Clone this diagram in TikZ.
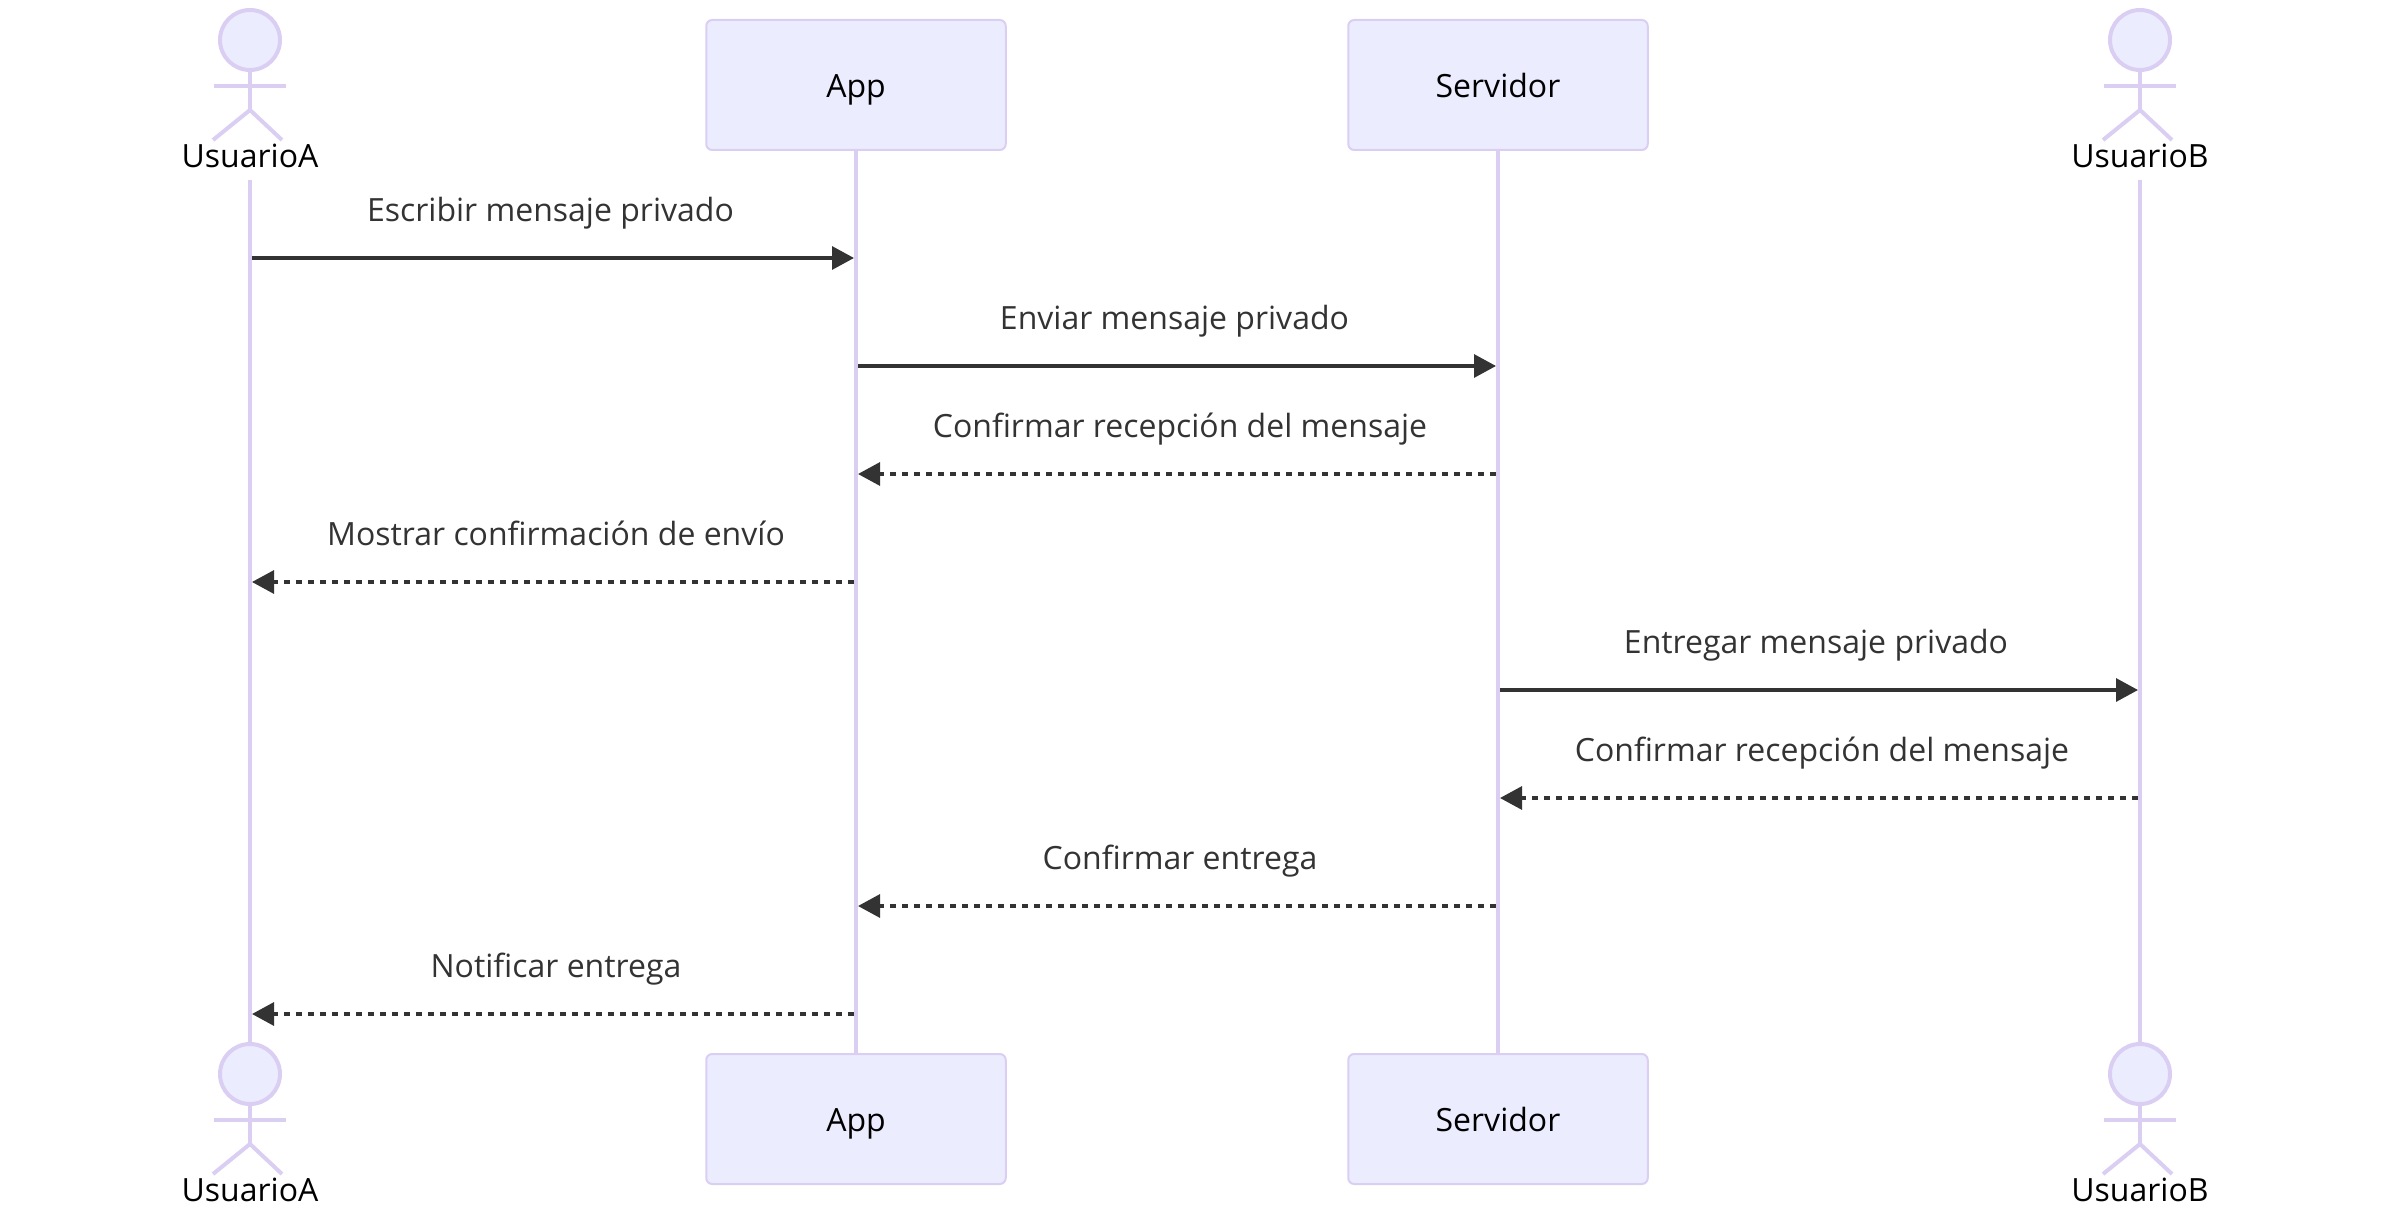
\documentclass[tikz,border=0pt]{standalone}
\usepackage{fontspec}
\setmainfont{Open Sans}
\usetikzlibrary{arrows.meta,backgrounds}
\definecolor{actorfill}{HTML}{ECECFF}
\definecolor{actorline}{HTML}{DACEF3}
\definecolor{msgcolor}{HTML}{333333}
\tikzset{
  x=1pt,y=-1pt,
  boxnode/.style={draw=actorline,fill=actorfill,line width=2pt,rounded corners=6pt,minimum width=299.5pt,minimum height=130pt,inner sep=0pt,outer sep=0pt,text=black,font=\fontsize{32}{38}\selectfont,text height=25pt,text depth=0pt,align=center},
  headnode/.style={circle,draw=actorline,fill=actorfill,line width=4pt,minimum size=60pt,inner sep=0pt,outer sep=0pt},
  stick/.style={draw=actorline,line width=4pt},
  lifeline/.style={draw=actorline,line width=4.5pt},
  actorlabel/.style={anchor=base,text=black,font=\fontsize{32}{38}\selectfont,inner sep=0pt},
  msglabel/.style={anchor=base,text=msgcolor,font=\fontsize{32}{38}\selectfont,inner sep=0pt},
  msg/.style={draw=msgcolor,line width=3.2pt,-{Triangle[length=22pt,width=23pt]}},
  dmsg/.style={msg,dash pattern=on 6pt off 6pt},
}
\newcommand{\stickman}[3]{% x, y offset, name
  \node[headnode] (#3head) at (#1,40+#2) {};
  \coordinate (#3hip) at (#1,110+#2);
  \coordinate (#3la) at (#1-36,86+#2);
  \coordinate (#3ra) at (#1+36,86+#2);
  \coordinate (#3lf) at (#1-37,140+#2);
  \coordinate (#3rf) at (#1+32,140+#2);
  \begin{scope}[on background layer]
    \draw[stick] (#3head) -- (#3hip);
    \draw[stick] (#3la) -- (#3ra);
    \draw[stick] (#3lf) -- (#3hip) -- (#3rf);
  \end{scope}
}
\begin{document}
\begin{tikzpicture}
\useasboundingbox (0,0) rectangle (2390,1206);
\node[boxnode] (appt) at (856,85) {App};
\node[boxnode] (appb) at (856,1119) {App};
\node[boxnode] (servt) at (1498,85) {Servidor};
\node[boxnode] (servb) at (1498,1119) {Servidor};
% actors
\stickman{250}{0}{at}
\stickman{250}{1034}{ab}
\stickman{2140}{0}{bt}
\stickman{2140}{1034}{bb}
\node[actorlabel] (atl) at (250,167.5) {UsuarioA};
\node[actorlabel] (abl) at (250,1201.5) {UsuarioA};
\node[actorlabel] (btl) at (2140,167.5) {UsuarioB};
\node[actorlabel] (bbl) at (2140,1201.5) {UsuarioB};
% lifelines
\coordinate (lAt) at (250,180);
\coordinate (lBt) at (2140,180);
\begin{scope}[on background layer]
  \draw[lifeline] (lAt) -- (abhead);
  \draw[lifeline] (lBt) -- (bbhead);
  \draw[lifeline] (appt) -- (appb);
  \draw[lifeline] (servt) -- (servb);
\end{scope}
% message end points on the lifelines
\coordinate (m1s) at (252,258);  \coordinate (m1e) at (854,258);
\coordinate (m2s) at (858,366);  \coordinate (m2e) at (1496,366);
\coordinate (m3s) at (1496,474); \coordinate (m3e) at (858,474);
\coordinate (m4s) at (854,582);  \coordinate (m4e) at (252,582);
\coordinate (m5s) at (1500,690); \coordinate (m5e) at (2138,690);
\coordinate (m6s) at (2138,798); \coordinate (m6e) at (1500,798);
\coordinate (m7s) at (1496,906); \coordinate (m7e) at (858,906);
\coordinate (m8s) at (854,1014); \coordinate (m8e) at (252,1014);
\draw[msg] (m1s) -- (m1e);
\draw[msg] (m2s) -- (m2e);
\draw[dmsg] (m3s) -- (m3e);
\draw[dmsg] (m4s) -- (m4e);
\draw[msg] (m5s) -- (m5e);
\draw[dmsg] (m6s) -- (m6e);
\draw[dmsg] (m7s) -- (m7e);
\draw[dmsg] (m8s) -- (m8e);
\node[msglabel] (t1) at (550.5,221.5) {Escribir mensaje privado};
\node[msglabel] (t2) at (1174.5,329) {Enviar mensaje privado};
\node[msglabel] (t3) at (1180,437) {Confirmar recepción del mensaje};
\node[msglabel] (t4) at (556,545) {Mostrar confirmación de envío};
\node[msglabel] (t5) at (1816,653) {Entregar mensaje privado};
\node[msglabel] (t6) at (1822,761) {Confirmar recepción del mensaje};
\node[msglabel] (t7) at (1180,869) {Confirmar entrega};
\node[msglabel] (t8) at (556,977) {Notificar entrega};
\end{tikzpicture}
\end{document}
